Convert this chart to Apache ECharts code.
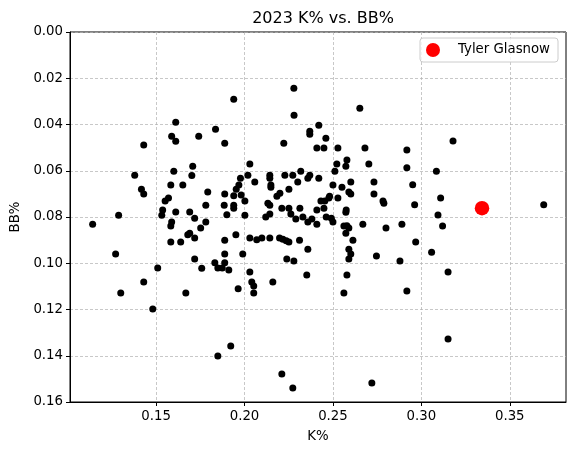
<!DOCTYPE html>
<html>
<head>
<meta charset="utf-8">
<script src="https://cdn.jsdelivr.net/npm/echarts@6/dist/echarts.min.js"></script>
<style>
html,body{margin:0;padding:0;background:#fff;}
#chart{width:576px;height:455px;}
</style>
</head>
<body>
<div id="chart"></div>
<script>
const titleText = "2023 K% vs. BB%";
const xLabel = "K%";
const yLabel = "BB%";
const highlightName = "Tyler Glasnow";
const xTicks = [0.15, 0.20, 0.25, 0.30, 0.35];
const yTicks = [0.00, 0.02, 0.04, 0.06, 0.08, 0.10, 0.12, 0.14, 0.16];

const kPct = [
0.2279,0.228,0.2652,0.1939,0.1611,0.1588,0.1611,0.1741,0.1836,0.1888,
0.143,0.1379,0.1417,0.143,0.16,0.1707,0.1702,0.1583,0.1651,0.1792,
0.1888,0.157,0.1551,0.1781,0.1885,0.1939,0.1939,0.1953,0.1977,0.1939,
0.1288,0.1537,0.1532,0.1611,0.169,0.1718,0.19,0.1141,0.1588,0.1583,
0.1781,0.1752,0.1679,0.169,0.1718,0.1583,0.1639,0.1888,0.1951,0.1271,
0.1888,0.1718,0.1758,0.1832,0.1849,0.1874,0.1888,0.1911,0.1509,0.143,
0.13,0.1668,0.1481,0.1964,0.1922,0.1849,0.2002,0.199,0.203,0.2069,
0.2098,0.2143,0.2198,0.2217,0.2236,0.2251,0.2311,0.2358,0.2239,0.2279,
0.203,0.2041,0.2052,0.2052,0.216,0.2352,0.2211,0.2273,0.272,0.2579,
0.2562,0.259,0.2601,0.259,0.2613,0.2573,0.2562,0.259,0.2579,0.2669,
0.28,0.2879,0.25,0.2462,0.2409,0.2358,0.229,0.233,0.2381,0.2262,
0.2143,0.212,0.2573,0.2746,0.2222,0.2369,0.2369,0.242,0.246,0.2409,
0.2449,0.2528,0.2681,0.2703,0.2579,0.2573,0.2522,0.2511,0.203,0.2019,
0.1968,0.1981,0.2002,0.2058,0.2143,0.2143,0.2149,0.2149,0.2228,0.2318,
0.2273,0.2369,0.2358,0.242,0.2301,0.2251,0.22,0.2183,0.2132,0.2143,
0.2211,0.2251,0.2313,0.2409,0.2449,0.2432,0.2454,0.2481,0.2477,0.2528,
0.25,0.2551,0.2601,0.259,0.2601,0.2575,0.2732,0.2732,0.2783,0.2788,
0.3179,0.2918,0.2918,0.3085,0.2951,0.3109,0.2962,0.3692,0.3094,0.289,
0.312,0.2968,0.3058,0.3151,0.2918,0.3151,0.2491
];
const bbPct = [
0.0243,0.036,0.033,0.0291,0.039,0.0451,0.0472,0.0451,0.042,0.0481,
0.0489,0.0619,0.068,0.0701,0.0602,0.058,0.0621,0.0662,0.0662,0.0692,
0.0701,0.0718,0.0731,0.0749,0.0749,0.0749,0.0762,0.068,0.0632,0.0708,
0.0792,0.077,0.0792,0.0778,0.0778,0.0805,0.079,0.0831,0.0822,0.0839,
0.0822,0.0848,0.0877,0.087,0.0891,0.0908,0.0908,0.09,0.0877,0.096,
0.096,0.0982,0.1022,0.0998,0.1021,0.1021,0.0998,0.1029,0.1021,0.1081,
0.1129,0.1129,0.1198,0.111,0.1358,0.1401,0.0792,0.096,0.0891,0.0898,
0.0891,0.0891,0.0891,0.0896,0.0903,0.0908,0.09,0.0939,0.0982,0.099,
0.1038,0.1081,0.1098,0.1129,0.1081,0.1051,0.1479,0.1539,0.1518,0.1051,
0.1129,0.0982,0.096,0.0939,0.09,0.087,0.0839,0.0848,0.0838,0.0831,
0.0848,0.099,0.0822,0.08,0.0831,0.0822,0.0809,0.08,0.0809,0.0787,
0.0787,0.08,0.0779,0.0969,0.0481,0.0429,0.0442,0.0403,0.0459,0.0502,
0.0502,0.0502,0.0502,0.0571,0.0554,0.058,0.0571,0.0602,0.0571,0.0619,
0.0662,0.0705,0.0731,0.0649,0.0619,0.0632,0.0662,0.0671,0.0619,0.0602,
0.0619,0.0619,0.0632,0.0632,0.0649,0.068,0.0697,0.071,0.074,0.0749,
0.0762,0.0762,0.0762,0.077,0.0762,0.0731,0.0731,0.071,0.0718,0.0718,
0.0662,0.0671,0.0649,0.0692,0.0701,0.077,0.0649,0.0701,0.0731,0.074,
0.0471,0.051,0.0587,0.0602,0.0661,0.0718,0.0747,0.0747,0.0791,0.0831,
0.0839,0.0908,0.0952,0.1038,0.112,0.1328,0.0805
];
const glasnowK = [0.3343];
const glasnowBB = [0.0762];

const FONT = "DejaVu Sans";
const FS = 13.3;
const others = kPct.map((k, i) => [k, bbPct[i]]);
const highlight = glasnowK.map((k, i) => [k, glasnowBB[i]]);

const chart = echarts.init(document.getElementById('chart'), null, {renderer: 'canvas'});
const gridLine = {show: true, lineStyle: {color: '#b0b0b0', width: 0.7, type: [3, 2]}};
chart.setOption({
  animation: false,
  backgroundColor: '#fff',
  textStyle: {fontFamily: FONT},
  title: {
    text: titleText, left: 318, top: 6, textAlign: 'center',
    textStyle: {fontFamily: FONT, fontSize: 16, fontWeight: 'normal', color: '#000'}
  },
  legend: {
    data: [highlightName], right: 18, top: 38, orient: 'vertical',
    padding: [5, 8, 5, 6], itemWidth: 28, itemHeight: 14, itemGap: 5,
    borderColor: '#cccccc', borderWidth: 1, borderRadius: 3,
    backgroundColor: 'rgba(255,255,255,0.8)',
    textStyle: {fontFamily: FONT, fontSize: FS, color: '#000', padding: [0,0,0,6]}
  },
  grid: {left: 70, right: 10, top: 32, bottom: 53, show: true, borderColor: '#000', borderWidth: 1, containLabel: false},
  xAxis: {
    type: 'value', min: 0.1013, max: 0.3818,
    name: xLabel, nameLocation: 'middle', nameGap: 28,
    nameTextStyle: {fontFamily: FONT, fontSize: FS, color: '#000'},
    axisLine: {show: true, onZero: false, lineStyle: {color: '#000', width: 1}},
    axisTick: {show: true, length: 4, lineStyle: {color: '#000'}, customValues: xTicks},
    axisLabel: {fontFamily: FONT, fontSize: FS, color: '#000', margin: 8, customValues: xTicks,
      formatter: v => v.toFixed(2)},
    splitLine: gridLine
  },
  yAxis: {
    type: 'value', min: 0, max: 0.16, interval: 0.02, inverse: true,
    name: yLabel, nameLocation: 'middle', nameGap: 44,
    nameTextStyle: {fontFamily: FONT, fontSize: FS, color: '#000'},
    axisLine: {show: true, onZero: false, lineStyle: {color: '#000', width: 1}},
    axisTick: {show: true, length: 4, lineStyle: {color: '#000'}},
    axisLabel: {fontFamily: FONT, fontSize: FS, color: '#000', margin: 7,
      formatter: v => v.toFixed(2)},
    splitLine: gridLine
  },
  series: [
    {name: 'others', type: 'scatter', data: others, symbol: 'circle', symbolSize: 7,
     itemStyle: {color: '#000', opacity: 1}, z: 2},
    {name: highlightName, type: 'scatter', data: highlight, symbol: 'circle', symbolSize: 14.5,
     itemStyle: {color: '#ff0000', opacity: 1}, z: 3}
  ]
});
</script>
</body>
</html>
